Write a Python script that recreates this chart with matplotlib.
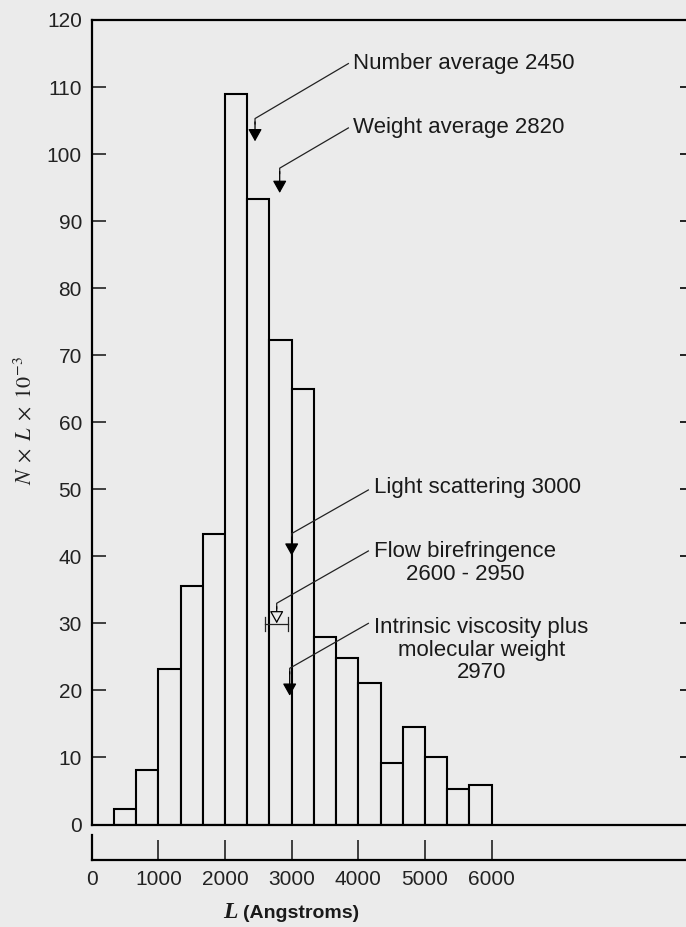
import matplotlib.pyplot as plt

plt.rcParams['font.family'] = ['Liberation Sans', 'DejaVu Sans']
plt.rcParams['mathtext.fontset'] = 'stix'

# histogram of N x L (x 10^-3) against length L in Angstroms
bin_width = 1000 / 3
bin_starts = [333, 667, 1000, 1333, 1667, 2000, 2333, 2667, 3000,
              3333, 3667, 4000, 4333, 4667, 5000, 5333, 5667]
nl_values = [2.3, 8.2, 23.2, 35.6, 43.3, 109.0, 93.3, 72.2, 64.9,
             28.0, 24.9, 21.1, 9.2, 14.6, 10.0, 5.3, 5.9]

y_ticks = list(range(0, 121, 10))
x_ticks = [0, 1000, 2000, 3000, 4000, 5000, 6000]

# annotations: label, text anchor, start of leader line, arrow x, kink y, tip y
ann_labels = ['Number average 2450',
              'Weight average 2820',
              'Light scattering 3000',
              'Flow birefringence\n2600 - 2950',
              'Intrinsic viscosity plus\nmolecular weight\n2970']
ann_text_xy = [(3925, 113.5), (3925, 103.9), (4235, 50.2), (4235, 39.0), (4235, 26.0)]
ann_line_start = [(3850, 113.5), (3850, 103.9), (4150, 49.9), (4150, 40.8), (4150, 30.0)]
ann_arrow_x = [2450, 2820, 3000, 2775, 2970]
ann_kink_y = [105.3, 97.9, 43.4, 33.0, 23.3]
ann_tip_y = [101.9, 94.2, 40.1, 30.0, 19.2]
ann_hollow = [False, False, False, True, False]

flow_range = (2600, 2950)
flow_y = 29.9

bg = '#ebebeb'
W, H = 686, 927
x_max = 8945

fig = plt.figure(figsize=(W / 100, H / 100), dpi=100, facecolor=bg)

# main axes
ax = fig.add_axes([91.7 / W, 1 - 824.5 / H, (688 - 91.7) / W, (824.5 - 20) / H])
ax.set_facecolor(bg)
ax.set_xlim(0, x_max)
ax.set_ylim(0, 120)

ax.bar(bin_starts, nl_values, width=bin_width, align='edge',
       facecolor=bg, edgecolor='black', linewidth=1.5, zorder=2)

for s in ['left', 'top', 'bottom']:
    ax.spines[s].set_linewidth(1.6)
ax.spines['right'].set_visible(False)
ax.set_xticks([])
ax.set_yticks(y_ticks)
ax.tick_params(axis='y', direction='in', length=10, width=1.2,
               labelsize=15, pad=7, colors='#222222')

ax_r = ax.twinx()
ax_r.set_ylim(0, 120)
ax_r.set_yticks(y_ticks)
ax_r.tick_params(axis='y', direction='in', length=6, width=1.2, labelright=False)
for s in ax_r.spines.values():
    s.set_visible(False)

# leader lines and arrows
for i, label in enumerate(ann_labels):
    sx, sy = ann_line_start[i]
    ax_x = ann_arrow_x[i]
    ax.plot([sx, ax_x, ax_x], [sy, ann_kink_y[i], ann_kink_y[i] - 0.8],
            color='#222222', lw=0.9, zorder=3)
    ax.annotate('', xy=(ax_x, ann_tip_y[i]), xytext=(ax_x, ann_kink_y[i] - 0.5),
                arrowprops=dict(arrowstyle='-|>,head_length=0.5,head_width=0.28',
                                lw=0.9, ec='black',
                                fc=bg if ann_hollow[i] else 'black',
                                shrinkA=0, shrinkB=0, mutation_scale=15),
                zorder=4)
    tx, ty = ann_text_xy[i]
    ax.text(tx, ty, label, ha='left', va='center', multialignment='center',
            fontsize=16, linespacing=1.1, color='#1a1a1a', zorder=5)

# flow birefringence range bar
ax.plot(flow_range, [flow_y, flow_y], color='#222222', lw=0.9, zorder=3)
for xv in flow_range:
    ax.plot([xv, xv], [flow_y - 1.05, flow_y + 1.05], color='#222222', lw=0.9, zorder=3)

# separate lower scale axis
axb = fig.add_axes([91.7 / W, 1 - 860 / H, (688 - 91.7) / W, 25 / H])
axb.patch.set_alpha(0)
axb.set_xlim(0, x_max)
axb.set_ylim(0, 1)
axb.spines['top'].set_visible(False)
axb.spines['right'].set_visible(False)
axb.spines['left'].set_linewidth(1.6)
axb.spines['bottom'].set_linewidth(1.6)
axb.set_yticks([])
axb.set_xticks(x_ticks)
axb.tick_params(axis='x', direction='in', length=14.4, width=1.2,
                labelsize=15, pad=7, colors='#222222')

# axis titles
fig.text(25 / W, 1 - 421 / H, r'$N\;\times\;L\;\times\;10^{-3}$', rotation=90,
         ha='center', va='center', fontsize=16, color='#222222')
fig.text(223 / W, 1 - 918.3 / H, 'L', family='Liberation Serif', style='italic',
         weight='bold', fontsize=17, ha='left', va='baseline', color='#1a1a1a')
fig.text(243 / W, 1 - 918.3 / H, '(Angstroms)', weight='bold', fontsize=14,
         ha='left', va='baseline', color='#1a1a1a')

fig.savefig('out.png', dpi=100, facecolor=bg)
